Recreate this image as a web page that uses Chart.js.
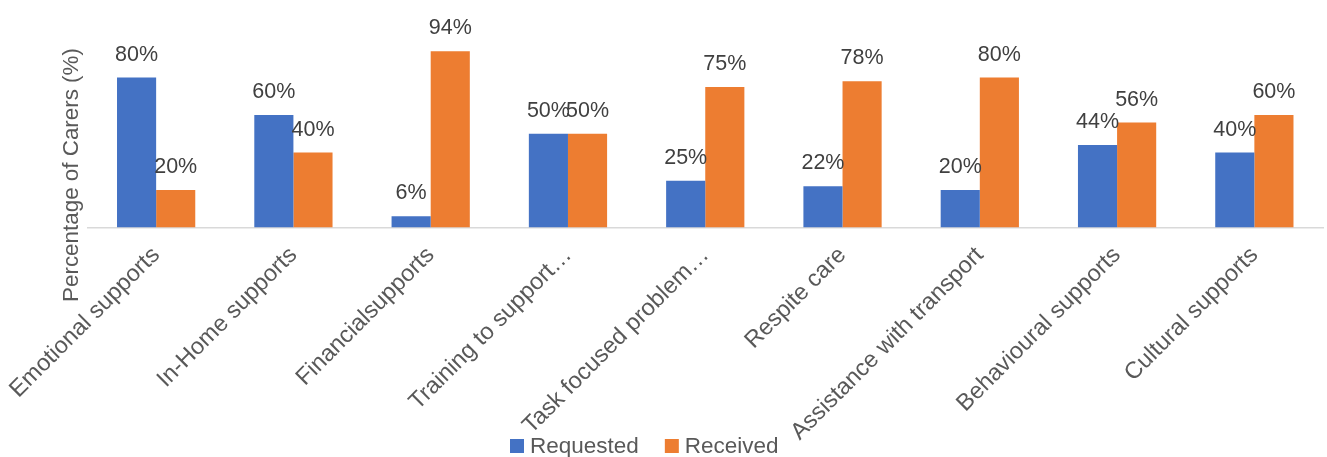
<!DOCTYPE html>
<html>
<head>
<meta charset="utf-8">
<script src="https://cdn.jsdelivr.net/npm/chart.js@4.4.1/dist/chart.umd.min.js"></script>
<style>
  html, body { margin: 0; padding: 0; background: #ffffff; }
  #wrap { width: 1327px; height: 457px; position: relative; }
</style>
</head>
<body>
<div id="wrap"><canvas id="c" width="1327" height="457"></canvas></div>
<script>
const categories = [
  "Emotional supports",
  "In-Home supports",
  "Financialsupports",
  "Training to support\u2026",
  "Task focused problem\u2026",
  "Respite care",
  "Assistance with transport",
  "Behavioural supports",
  "Cultural supports"
];
const requested = [80, 60, 6, 50, 25, 22, 20, 44, 40];
const received = [20, 40, 94, 50, 75, 78, 80, 56, 60];
const seriesNames = ["Requested", "Received"];
const seriesColors = ["#4472C4", "#ED7D31"];
const yTitle = "Percentage of Carers (%)";

const FONT = "'Liberation Sans', Arial, sans-serif";

const dataLabelPlugin = {
  id: 'dataLabels',
  afterDatasetsDraw(chart) {
    const ctx = chart.ctx;
    ctx.save();
    ctx.font = "21.5px " + FONT;
    ctx.fillStyle = "#404040";
    ctx.textAlign = "center";
    ctx.textBaseline = "alphabetic";
    chart.data.datasets.forEach((ds, di) => {
      const meta = chart.getDatasetMeta(di);
      meta.data.forEach((bar, i) => {
        ctx.fillText(ds.data[i] + "%", bar.x, bar.y - 17);
      });
    });
    ctx.restore();
  }
};

const titleLegendPlugin = {
  id: 'titleLegend',
  afterDraw(chart) {
    const ctx = chart.ctx;
    ctx.save();
    // y-axis title
    ctx.font = "22.4px " + FONT;
    ctx.fillStyle = "#595959";
    ctx.textAlign = "center";
    ctx.textBaseline = "middle";
    ctx.translate(72, 175);
    ctx.rotate(-Math.PI / 2);
    ctx.fillText(yTitle, 0, 0);
    ctx.restore();

    // legend
    ctx.save();
    ctx.font = "22.5px " + FONT;
    ctx.textBaseline = "middle";
    ctx.textAlign = "left";
    let x = 510;
    const yc = 446;
    chart.data.datasets.forEach((ds, di) => {
      ctx.fillStyle = ds.backgroundColor;
      ctx.fillRect(x, yc - 7, 14, 14);
      x += 14 + 6;
      ctx.fillStyle = "#595959";
      ctx.fillText(ds.label, x, yc + 1);
      x += ctx.measureText(ds.label).width + 26;
    });
    ctx.restore();
  }
};

new Chart(document.getElementById('c'), {
  type: 'bar',
  data: {
    labels: categories,
    datasets: [
      { label: seriesNames[0], data: requested, backgroundColor: seriesColors[0] },
      { label: seriesNames[1], data: received, backgroundColor: seriesColors[1] }
    ]
  },
  options: {
    responsive: false,
    animation: false,
    devicePixelRatio: 1,
    layout: { padding: { top: 40, left: 0, right: 4, bottom: 0 } },
    datasets: {
      bar: { categoryPercentage: 0.57, barPercentage: 1.0, borderWidth: 0 }
    },
    plugins: {
      legend: { display: false },
      tooltip: { enabled: false },
      title: { display: false }
    },
    scales: {
      x: {
        grid: { display: false, drawTicks: false },
        border: { display: true, color: "#D9D9D9", width: 1.5 },
        ticks: {
          autoSkip: false,
          minRotation: 45,
          maxRotation: 45,
          padding: 14,
          color: "#595959",
          font: { family: FONT, size: 23.5 }
        },
        afterFit(scale) {
          scale.height = 229.5;
          scale.paddingLeft = 0;
          scale.paddingRight = 0;
        }
      },
      y: {
        min: 0,
        max: 100,
        grid: { display: false, drawTicks: false },
        border: { display: false },
        ticks: { display: false },
        afterFit(scale) {
          scale.width = 87.5;
          scale.paddingTop = 0;
          scale.paddingBottom = 0;
        }
      }
    }
  },
  plugins: [dataLabelPlugin, titleLegendPlugin]
});
</script>
</body>
</html>
